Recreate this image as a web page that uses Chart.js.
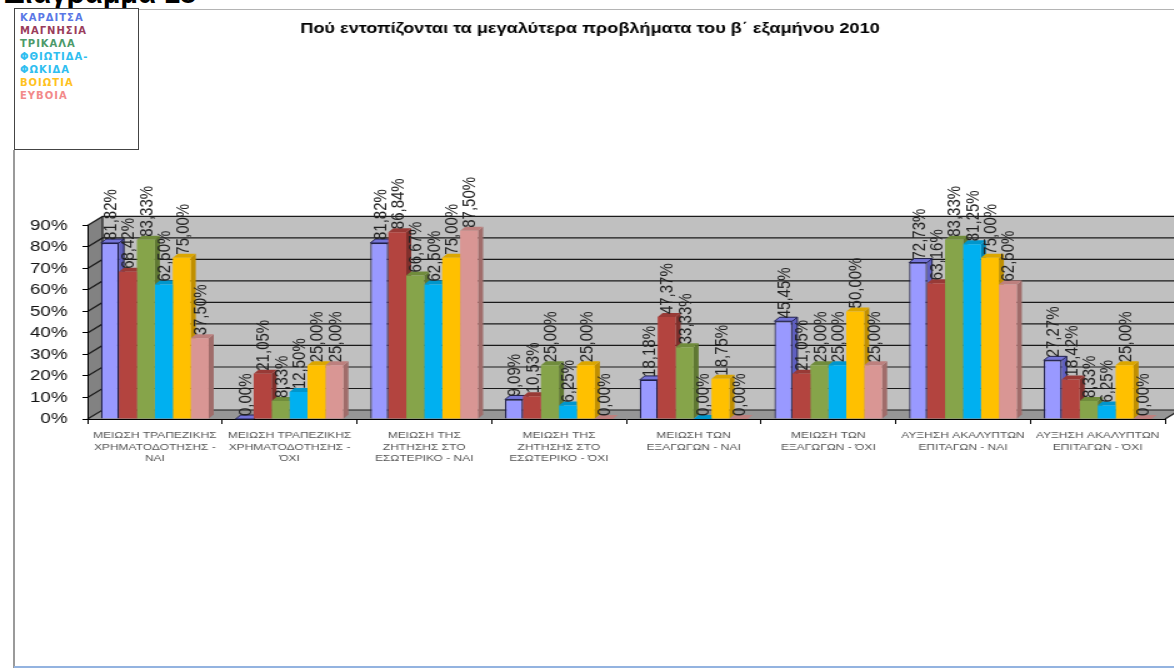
<!DOCTYPE html>
<html>
<head>
<meta charset="utf-8">
<script src="https://cdn.jsdelivr.net/npm/chart.js@4.4.0/dist/chart.umd.min.js"></script>
<style>
html, body { margin: 0; padding: 0; width: 1174px; height: 671px; overflow: hidden; background: #fff; }
#cut { position: absolute; left: 4px; top: -23px; font: bold 29px Arial, "Liberation Sans"; color: #000; white-space: nowrap; }
#frameLeft { position: absolute; left: 13px; top: 150px; width: 2px; height: 518px; background: #9a9a9a; }
#frameTop { position: absolute; left: 139px; top: 9px; width: 1035px; height: 1px; background: #b4b4b4; }
#frameBottom { position: absolute; left: 14px; top: 666px; width: 1160px; height: 2px; background: #93b3e0; }
#legend { position: absolute; left: 14px; top: 8px; width: 125px; height: 142px; border: 1px solid #444; box-sizing: border-box; background: #fff; }
#legend div.inner { position: absolute; left: 5px; top: 2px; width: 110px; font: bold 10px "DejaVu Sans", sans-serif; line-height: 13px; letter-spacing: 1px; }
/* o grafico original aparece esticado na horizontal */
#box { position: absolute; left: 15px; top: 9px; width: 936px; height: 658px; transform: scaleX(1.25); transform-origin: 0 0; }
</style>
</head>
<body>
<div id="cut">Διάγραμμα 18</div>
<div id="frameTop"></div>
<div id="frameLeft"></div>
<div id="frameBottom"></div>
<div id="box"><canvas id="grafico"></canvas></div>
<div id="legend"><div class="inner" id="legendItems"></div></div>
<script>
const titulo = 'Πού εντοπίζονται τα μεγαλύτερα προβλήματα του β΄ εξαμήνου 2010'

const categorias = [
  ['ΜΕΙΩΣΗ ΤΡΑΠΕΖΙΚΗΣ', 'ΧΡΗΜΑΤΟΔΟΤΗΣΗΣ -', 'ΝΑΙ'],
  ['ΜΕΙΩΣΗ ΤΡΑΠΕΖΙΚΗΣ', 'ΧΡΗΜΑΤΟΔΟΤΗΣΗΣ -', 'ΌΧΙ'],
  ['ΜΕΙΩΣΗ ΤΗΣ', 'ΖΗΤΗΣΗΣ ΣΤΟ', 'ΕΣΩΤΕΡΙΚΟ - ΝΑΙ'],
  ['ΜΕΙΩΣΗ ΤΗΣ', 'ΖΗΤΗΣΗΣ ΣΤΟ', 'ΕΣΩΤΕΡΙΚΟ - ΌΧΙ'],
  ['ΜΕΙΩΣΗ ΤΩΝ', 'ΕΞΑΓΩΓΩΝ - ΝΑΙ'],
  ['ΜΕΙΩΣΗ ΤΩΝ', 'ΕΞΑΓΩΓΩΝ - ΌΧΙ'],
  ['ΑΥΞΗΣΗ ΑΚΑΛΥΠΤΩΝ', 'ΕΠΙΤΑΓΩΝ - ΝΑΙ'],
  ['ΑΥΞΗΣΗ ΑΚΑΛΥΠΤΩΝ', 'ΕΠΙΤΑΓΩΝ - ΌΧΙ']
]

const nomes = ['ΚΑΡΔΙΤΣΑ', 'ΜΑΓΝΗΣΙΑ', 'ΤΡΙΚΑΛΑ', 'ΦΘΙΩΤΙΔΑ-ΦΩΚΙΔΑ', 'ΒΟΙΩΤΙΑ', 'ΕΥΒΟΙΑ']

const karditsa  = [81.82, 0.00, 81.82, 9.09, 18.18, 45.45, 72.73, 27.27]
const magnisia  = [68.42, 21.05, 86.84, 10.53, 47.37, 21.05, 63.16, 18.42]
const trikala   = [83.33, 8.33, 66.67, 25.00, 33.33, 25.00, 83.33, 8.33]
const fthiotida = [62.50, 12.50, 62.50, 6.25, 0.00, 25.00, 81.25, 6.25]
const voiotia   = [75.00, 25.00, 75.00, 25.00, 18.75, 50.00, 75.00, 25.00]
const evoia     = [37.50, 25.00, 87.50, 0.00, 0.00, 25.00, 62.50, 0.00]

const yMin = 0
const yMax = 90
const yStep = 10

const series = [karditsa, magnisia, trikala, fthiotida, voiotia, evoia]

// cores: frente, lateral, topo, legenda
const corFrente  = ['#9999ff', '#b3443f', '#86a44a', '#00b0f0', '#ffc000', '#d99694']
const corLateral = ['#5f5fc0', '#80302c', '#5f7832', '#0080b0', '#c08f00', '#a06c6a']
const corTopo    = ['#7474d8', '#983a36', '#708c3c', '#0096cc', '#dba600', '#bd807e']
const corLegenda = ['#5a78e6', '#9a3d5c', '#4c9a6a', '#30bef0', '#ffc21e', '#f28a8a']

// legenda
const leg = document.getElementById('legendItems')
nomes.forEach((n, i) => {
  const d = document.createElement('div')
  d.textContent = n
  d.style.color = corLegenda[i]
  leg.appendChild(d)
})

const dx = 12, dy = -9     // profundidade das paredes (px do canvas)
const bx = 4, by = -4      // profundidade das barras

const paredes = {
  id: 'paredes',
  beforeDraw(chart) {
    const { ctx, chartArea: a, scales: { y } } = chart
    const L = a.left, R = a.right, T = a.top, B = a.bottom
    ctx.save()
    // parede do fundo
    ctx.fillStyle = '#c0c0c0'
    ctx.fillRect(L + dx, T + dy, R - L, B - T)
    // parede esquerda
    ctx.fillStyle = '#828282'
    ctx.beginPath()
    ctx.moveTo(L, T); ctx.lineTo(L + dx, T + dy); ctx.lineTo(L + dx, B + dy); ctx.lineTo(L, B)
    ctx.closePath(); ctx.fill()
    // chao
    ctx.fillStyle = '#969696'
    ctx.beginPath()
    ctx.moveTo(L, B); ctx.lineTo(L + dx, B + dy); ctx.lineTo(R + dx, B + dy); ctx.lineTo(R, B)
    ctx.closePath(); ctx.fill()
    // linhas de grade
    ctx.strokeStyle = '#1a1a1a'
    ctx.lineWidth = 1.2
    for (let v = yMin; v <= yMax; v += yStep) {
      const py = y.getPixelForValue(v)
      ctx.beginPath()
      ctx.moveTo(L, py); ctx.lineTo(L + dx, py + dy); ctx.lineTo(R + dx, py + dy)
      ctx.stroke()
    }
    ctx.beginPath()
    ctx.moveTo(L + dx, T + dy); ctx.lineTo(L + dx, B + dy)
    ctx.moveTo(R, B); ctx.lineTo(R + dx, B + dy)
    ctx.stroke()
    ctx.restore()
  },
  beforeDatasetsDraw(chart) {
    const { ctx } = chart
    ctx.save()
    chart.data.datasets.forEach((ds, i) => {
      chart.getDatasetMeta(i).data.forEach(el => {
        const l = el.x - el.width / 2, r = el.x + el.width / 2
        // lateral
        ctx.fillStyle = corLateral[i]
        ctx.beginPath()
        ctx.moveTo(r, el.y); ctx.lineTo(r + bx, el.y + by); ctx.lineTo(r + bx, el.base + by); ctx.lineTo(r, el.base)
        ctx.closePath(); ctx.fill()
        // topo
        ctx.fillStyle = corTopo[i]
        ctx.beginPath()
        ctx.moveTo(l, el.y); ctx.lineTo(l + bx, el.y + by); ctx.lineTo(r + bx, el.y + by); ctx.lineTo(r, el.y)
        ctx.closePath(); ctx.fill()
        if (i === 0) {
          ctx.strokeStyle = '#20204a'
          ctx.lineWidth = 1
          ctx.stroke()
          ctx.beginPath()
          ctx.moveTo(r + bx, el.y + by); ctx.lineTo(r + bx, el.base + by)
          ctx.stroke()
        }
      })
    })
    ctx.restore()
  },
  afterDatasetsDraw(chart) {
    const { ctx } = chart
    ctx.save()
    ctx.font = '15px Arial, "Liberation Sans"'
    ctx.fillStyle = '#222'
    ctx.textAlign = 'left'
    ctx.textBaseline = 'middle'
    chart.data.datasets.forEach((ds, i) => {
      chart.getDatasetMeta(i).data.forEach((el, j) => {
        const txt = ds.data[j].toFixed(2).replace('.', ',') + '%'
        ctx.save()
        ctx.translate(el.x + 1, el.y - 3)
        ctx.rotate(-Math.PI / 2)
        ctx.fillText(txt, 0, 0)
        ctx.restore()
      })
    })
    ctx.restore()
  }
}

const ctx = document.getElementById('grafico')

const grafico = new Chart(ctx, {
  type: 'bar',
  data: {
    labels: categorias,
    datasets: series.map((s, i) => ({
      label: nomes[i],
      data: s,
      backgroundColor: corFrente[i],
      borderColor: i === 0 ? '#20204a' : corFrente[i],
      borderWidth: i === 0 ? 1.2 : 0,
      categoryPercentage: 0.8,
      barPercentage: 1.0
    }))
  },
  options: {
    responsive: true,
    maintainAspectRatio: false,
    animation: false,
    layout: { padding: { right: 16, left: 0, top: 0, bottom: 0 } },
    plugins: {
      legend: { display: false },
      tooltip: { enabled: false },
      title: {
        display: true,
        text: titulo,
        color: '#000',
        font: { family: 'Arial', size: 14.5, weight: 'bold' },
        padding: { top: 11, bottom: 188 }
      }
    },
    scales: {
      x: {
        afterFit: s => { s.height = 248 },
        border: { display: true, color: '#000', width: 1 },
        grid: { offset: true, drawOnChartArea: false, drawTicks: true, tickLength: 5, color: '#000' },
        ticks: {
          autoSkip: false, maxRotation: 0, minRotation: 0,
          color: '#555',
          font: { family: 'Arial', size: 9.6 },
          padding: 6
        }
      },
      y: {
        min: yMin,
        max: yMax,
        afterFit: s => { s.width = 58 },
        border: { display: true, color: '#000', width: 1 },
        grid: { drawOnChartArea: false, drawTicks: true, tickLength: 4, color: '#000' },
        ticks: {
          stepSize: yStep,
          color: '#111',
          font: { family: 'Arial', size: 15 },
          padding: 12,
          callback: v => v + '%'
        }
      }
    }
  },
  plugins: [paredes]
})
</script>
</body>
</html>
